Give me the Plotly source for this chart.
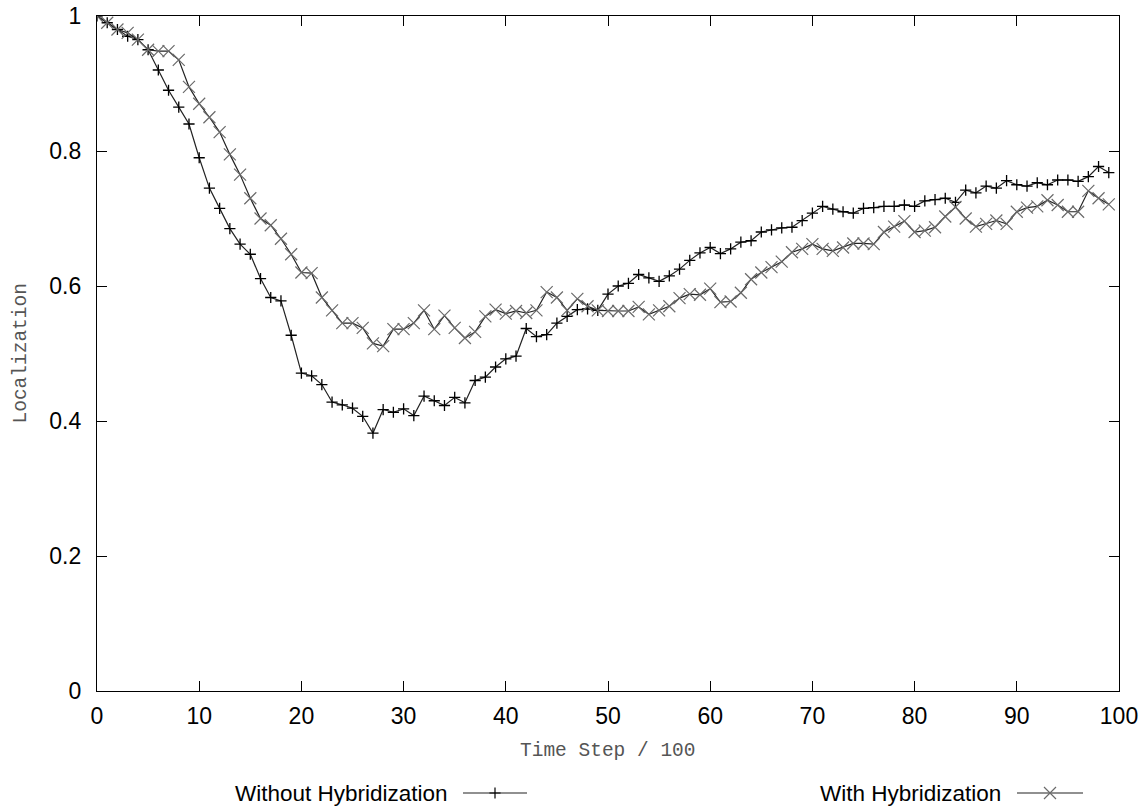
import plotly.graph_objects as go

# ---- data ----
time_step = list(range(0, 100))

without_hyb = [
    1.000, 0.990, 0.980, 0.970, 0.965, 0.950, 0.920, 0.890, 0.865, 0.840,
    0.790, 0.745, 0.715, 0.685, 0.662, 0.647, 0.611, 0.583, 0.578, 0.527,
    0.471, 0.467, 0.454, 0.428, 0.424, 0.419, 0.407, 0.382, 0.417, 0.413,
    0.418, 0.408, 0.437, 0.430, 0.423, 0.435, 0.427, 0.460, 0.465, 0.480,
    0.492, 0.496, 0.537, 0.525, 0.528, 0.545, 0.555, 0.565, 0.566, 0.564,
    0.588, 0.600, 0.604, 0.617, 0.612, 0.607, 0.615, 0.625, 0.638, 0.649,
    0.657, 0.648, 0.655, 0.665, 0.667, 0.680, 0.683, 0.686, 0.687, 0.697,
    0.708, 0.718, 0.714, 0.710, 0.708, 0.715, 0.716, 0.718, 0.718, 0.720,
    0.718, 0.726, 0.728, 0.730, 0.724, 0.742, 0.738, 0.748, 0.745, 0.756,
    0.750, 0.748, 0.753, 0.750, 0.757, 0.757, 0.755, 0.762, 0.777, 0.768,
]

with_hyb = [
    1.000, 0.990, 0.980, 0.975, 0.965, 0.950, 0.948, 0.948, 0.935, 0.895,
    0.870, 0.850, 0.828, 0.795, 0.765, 0.730, 0.700, 0.690, 0.670, 0.647,
    0.620, 0.619, 0.583, 0.564, 0.545, 0.545, 0.538, 0.515, 0.511, 0.536,
    0.536, 0.545, 0.564, 0.536, 0.556, 0.538, 0.523, 0.532, 0.555, 0.565,
    0.559, 0.563, 0.560, 0.564, 0.591, 0.583, 0.564, 0.581, 0.570, 0.564,
    0.563, 0.563, 0.563, 0.569, 0.558, 0.564, 0.570, 0.582, 0.588, 0.587,
    0.596, 0.576, 0.577, 0.590, 0.610, 0.620, 0.628, 0.636, 0.650, 0.655,
    0.662, 0.655, 0.652, 0.657, 0.663, 0.663, 0.662, 0.680, 0.688, 0.696,
    0.680, 0.682, 0.687, 0.703, 0.717, 0.700, 0.688, 0.692, 0.697, 0.692,
    0.710, 0.716, 0.718, 0.727, 0.720, 0.710, 0.710, 0.741, 0.730, 0.721,
]

series_names = ["Without Hybridization", "With Hybridization"]
x_ticks = [0, 10, 20, 30, 40, 50, 60, 70, 80, 90, 100]
y_ticks = [0, 0.2, 0.4, 0.6, 0.8, 1]
y_tick_text = ["0", "0.2", "0.4", "0.6", "0.8", "1"]

W, H = 1144, 807
LINE_COL = "#222222"
PLUS_COL = "#000000"
X_COL = "#6a6a6a"

fig = go.Figure()

fig.add_trace(go.Scatter(
    x=time_step, y=without_hyb, mode="lines+markers", name=series_names[0],
    line=dict(color=LINE_COL, width=1.2),
    marker=dict(symbol="cross-thin", size=8, line=dict(color=PLUS_COL, width=1.3)),
    showlegend=False,
))
fig.add_trace(go.Scatter(
    x=time_step, y=with_hyb, mode="lines+markers", name=series_names[1],
    line=dict(color=LINE_COL, width=1.2),
    marker=dict(symbol="x-thin", size=12, line=dict(color=X_COL, width=1.2)),
    showlegend=False,
))

# ---- legend (gnuplot style: text, then sample) on a full-page pixel axis ----
leg_y = 793
leg_items = [
    (series_names[0], 450, 463, 527, "cross-thin", 8, PLUS_COL),
    (series_names[1], 1003, 1017, 1083, "x-thin", 12, X_COL),
]
for name, text_right, lx0, lx1, sym, sz, mcol in leg_items:
    fig.add_trace(go.Scatter(
        x=[lx0, lx1], y=[leg_y, leg_y], mode="lines", xaxis="x2", yaxis="y2",
        line=dict(color=LINE_COL, width=1.2), showlegend=False, hoverinfo="skip",
    ))
    fig.add_trace(go.Scatter(
        x=[(lx0 + lx1) / 2], y=[leg_y], mode="markers", xaxis="x2", yaxis="y2",
        marker=dict(symbol=sym, size=sz, line=dict(color=mcol, width=1.2)),
        showlegend=False, hoverinfo="skip",
    ))
    fig.add_annotation(
        x=text_right, y=leg_y, xref="x2", yref="y2", text=name, showarrow=False,
        xanchor="right", yanchor="middle",
        font=dict(family="Liberation Sans, Arial, sans-serif", size=22.5, color="#000"),
    )

x0_px, x1_px = 97, 1119
y0_px, y1_px = 691, 16

tick_font = dict(family="Liberation Sans, Arial, sans-serif", size=23, color="#000")
title_font = dict(family="Liberation Mono, Courier New, monospace", size=19.5, color="#555")

fig.update_layout(
    width=W, height=H,
    margin=dict(l=0, r=0, t=0, b=0),
    paper_bgcolor="white", plot_bgcolor="rgba(0,0,0,0)",
    xaxis=dict(
        domain=[x0_px / W, x1_px / W], range=[0, 100], anchor="y",
        tickvals=x_ticks, ticks="inside", ticklen=10, tickcolor="#000", tickwidth=1,
        showline=True, linecolor="#000", linewidth=1.3, mirror="ticks",
        showgrid=False, zeroline=False, tickfont=tick_font, automargin=False,
        ticklabelstandoff=4,
    ),
    yaxis=dict(
        domain=[(H - y0_px) / H, (H - y1_px) / H], range=[0, 1], anchor="x",
        tickvals=y_ticks, ticktext=y_tick_text, ticks="inside", ticklen=10,
        tickcolor="#000", tickwidth=1,
        showline=True, linecolor="#000", linewidth=1.3, mirror="ticks",
        showgrid=False, zeroline=False, tickfont=tick_font, automargin=False,
        ticklabelstandoff=10,
    ),
    xaxis2=dict(domain=[0, 1], range=[0, W], visible=False, anchor="y2",
                fixedrange=True),
    yaxis2=dict(domain=[0, 1], range=[H, 0], visible=False, anchor="x2",
                fixedrange=True),
    showlegend=False,
)

fig.add_annotation(x=(x0_px + x1_px) / 2, y=751, xref="x2", yref="y2",
                   text="Time Step / 100", showarrow=False, font=title_font,
                   xanchor="center", yanchor="middle")
fig.add_annotation(x=20, y=(y0_px + y1_px) / 2, xref="x2", yref="y2",
                   text="Localization", showarrow=False, font=title_font,
                   textangle=-90, xanchor="center", yanchor="middle")

fig.write_html("out.html")
